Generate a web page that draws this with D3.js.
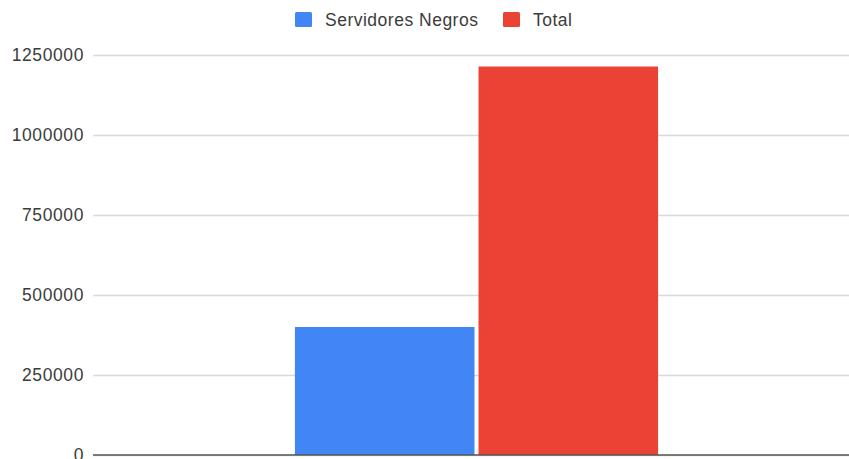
<!DOCTYPE html>
<html>
<head>
<meta charset="utf-8">
<script src="https://cdn.jsdelivr.net/npm/d3@7"></script>
<style>
  body { margin: 0; background: #fff; }
  text { font-family: "Liberation Sans", Arial, sans-serif; }
</style>
</head>
<body>
<div id="chart"></div>
<script>
// datos
var categories = [""];
var seriesNames = ["Servidores Negros", "Total"];
var seriesColors = ["#4285f4", "#ea4335"];
var servidoresNegros = [400000];
var total = [1214000];
var yTicks = [0, 250000, 500000, 750000, 1000000, 1250000];

var W = 849, H = 459;
var margin = {top: 55, right: -11, bottom: 4, left: 93};

var svg = d3.select("#chart").append("svg")
  .attr("width", W)
  .attr("height", H);

var x0 = d3.scaleBand().domain(categories)
  .range([margin.left, W - margin.right])
  .paddingInner(0).paddingOuter(0.556);

var x1 = d3.scaleBand().domain(seriesNames)
  .range([0, x0.bandwidth()])
  .paddingInner(0.022);

var y = d3.scaleLinear().domain([0, 1250000])
  .range([H - margin.bottom, margin.top]);

// líneas de cuadrícula
var yAxis = d3.axisLeft(y).tickValues(yTicks).tickFormat(d3.format("d"))
  .tickSize(-(W - margin.right - margin.left)).tickPadding(9);
var gy = svg.append("g")
  .attr("transform", "translate(" + margin.left + ",0)")
  .call(yAxis);
gy.select(".domain").remove();
gy.selectAll(".tick line").attr("stroke", "#d9d9d9").attr("stroke-width", 1.3);
gy.selectAll(".tick text")
  .attr("fill", "#3c3c3c")
  .style("font-size", "17.5px")
  .style("letter-spacing", "0.6px");

// barras
var rows = categories.map(function(c, i) {
  return {cat: c, values: [servidoresNegros[i], total[i]]};
});

var groups = svg.selectAll("g.grp").data(rows).enter().append("g")
  .attr("class", "grp")
  .attr("transform", function(d) { return "translate(" + x0(d.cat) + ",0)"; });

groups.selectAll("rect").data(function(d) {
  return d.values.map(function(v, j) { return {name: seriesNames[j], value: v, color: seriesColors[j]}; });
}).enter().append("rect")
  .attr("x", function(d) { return x1(d.name); })
  .attr("y", function(d) { return y(d.value); })
  .attr("width", x1.bandwidth())
  .attr("height", function(d) { return y(0) - y(d.value); })
  .attr("fill", function(d) { return d.color; });

// eje x
svg.append("line")
  .attr("x1", margin.left).attr("x2", W)
  .attr("y1", y(0)).attr("y2", y(0))
  .attr("stroke", "#555").attr("stroke-width", 1.6);

// leyenda
var legendItems = [
  {name: seriesNames[0], color: seriesColors[0], x: 295},
  {name: seriesNames[1], color: seriesColors[1], x: 503}
];
var lg = svg.selectAll("g.legend").data(legendItems).enter().append("g")
  .attr("class", "legend")
  .attr("transform", function(d) { return "translate(" + d.x + ",12)"; });
lg.append("rect").attr("width", 17).attr("height", 15).attr("rx", 1.5)
  .attr("fill", function(d) { return d.color; });
lg.append("text").attr("x", 30).attr("y", 13.5)
  .attr("fill", "#3c3c3c")
  .style("font-size", "17.5px")
  .style("letter-spacing", "0.5px")
  .text(function(d) { return d.name; });
</script>
</body>
</html>
